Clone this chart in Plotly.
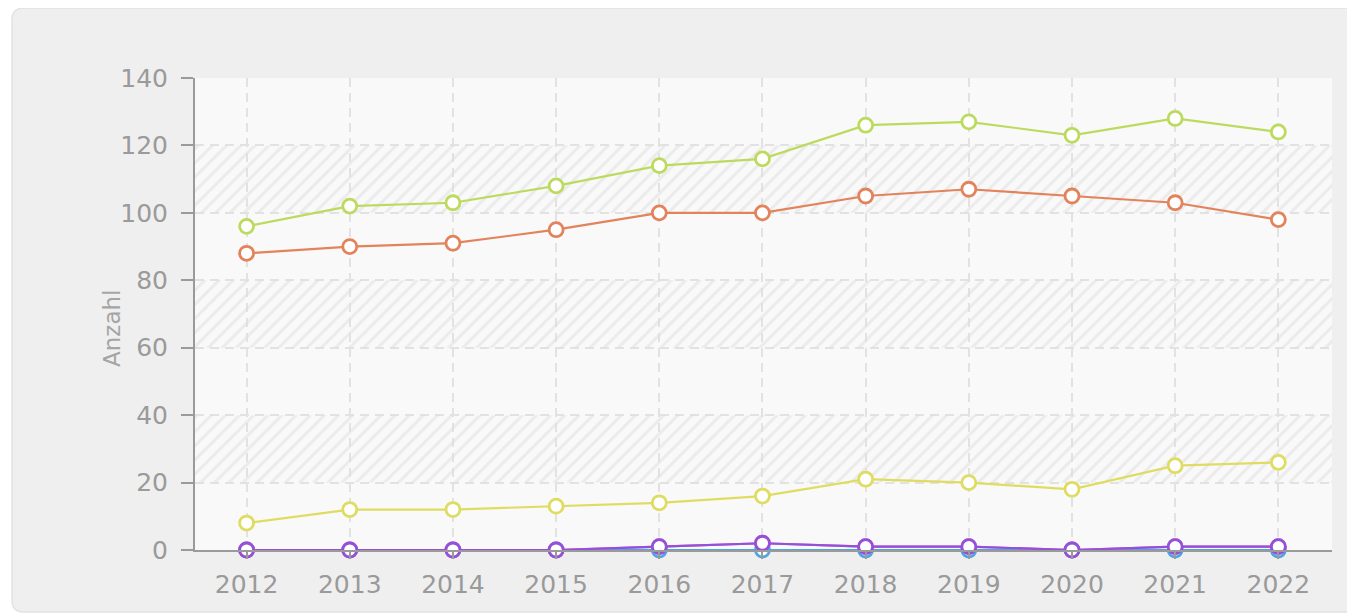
import plotly.graph_objects as go

years = [2012, 2013, 2014, 2015, 2016, 2017, 2018, 2019, 2020, 2021, 2022]
year_labels = [str(y) for y in years]
series_green = [96, 102, 103, 108, 114, 116, 126, 127, 123, 128, 124]
series_orange = [88, 90, 91, 95, 100, 100, 105, 107, 105, 103, 98]
series_yellow = [8, 12, 12, 13, 14, 16, 21, 20, 18, 25, 26]
series_blue = [0, 0, 0, 0, 0, 0, 0, 0, 0, 0, 0]
series_magenta = [0, 0, 0, 0, 1, 2, 1, 1, 0, 1, 1]
series_purple = [0, 0, 0, 0, 1, 2, 1, 1, 0, 1, 1]
y_ticks = [0, 20, 40, 60, 80, 100, 120, 140]
hatched_bands = [(20, 40), (60, 80), (100, 120)]
y_title = "Anzahl"

X_MIN, X_MAX = 2011.5, 2022.52
Y_MIN, Y_MAX = 0, 140

fig = go.Figure()

# hatched background bands
for lo, hi in hatched_bands:
    fig.add_trace(go.Scatter(
        x=[X_MIN, X_MAX, X_MAX, X_MIN, X_MIN], y=[lo, lo, hi, hi, lo],
        mode="lines", line=dict(width=0), fill="toself",
        fillcolor="rgba(0,0,0,0)",
        fillpattern=dict(shape="/", fgcolor="#dedede", bgcolor="rgba(0,0,0,0)", size=10, solidity=0.3),
        hoverinfo="skip", showlegend=False,
    ))

def add_series(vals, color):
    fig.add_trace(go.Scatter(
        x=years, y=vals, mode="lines+markers",
        line=dict(color=color, width=2.2),
        marker=dict(symbol="circle", size=14, color="white", line=dict(color=color, width=2.8)),
        showlegend=False, cliponaxis=False,
    ))

add_series(series_blue, "#4ea6e0")
add_series(series_magenta, "#d763e0")
add_series(series_purple, "#9450d6")
add_series(series_yellow, "#dfdc62")
add_series(series_orange, "#e2835c")
add_series(series_green, "#bcdb5e")

# layout geometry (figure pixels; the page adds an 8px body margin)
W, H = 1347, 608
L, R, T, B = 187, 1324, 70, 542
pw, ph = R - L, B - T

def px(x):
    return (x - L) / pw

def py(y):
    return (B - y) / ph

# outer rounded container
x0, x1, y0, y1 = px(4), px(1380), py(0), py(604)
rx, ry = 12 / pw, 12 / ph
path = (f"M {x0+rx},{y0} L {x1},{y0} L {x1},{y1} L {x0+rx},{y1} "
        f"Q {x0},{y1} {x0},{y1+ry} L {x0},{y0-ry} Q {x0},{y0} {x0+rx},{y0} Z")
fig.add_shape(type="path", path=path, xref="paper", yref="paper",
              fillcolor="#efefef", line=dict(color="#e2e2e2", width=1.5), layer="below")
fig.add_shape(type="rect", xref="paper", yref="paper", x0=0, x1=1, y0=0, y1=1,
              fillcolor="#f9f9f9", line=dict(width=0), layer="below")

fig.add_annotation(text=y_title, textangle=-90, xref="paper", yref="paper",
                   x=px(104), y=py(321), xanchor="center", yanchor="middle",
                   showarrow=False, font=dict(size=23, color="#a5a5a5"))

fig.update_layout(
    width=W, height=H,
    margin=dict(l=L, r=W - R, t=T, b=H - B),
    paper_bgcolor="white", plot_bgcolor="rgba(0,0,0,0)",
    font=dict(family="DejaVu Sans", color="#9a9a9a", size=25),
    xaxis=dict(
        range=[X_MIN, X_MAX], tickmode="array", tickvals=years, ticktext=year_labels,
        showgrid=True, gridcolor="#e2e2e2", griddash="9px,6px", gridwidth=1.6,
        showline=True, linecolor="#9a9a9a", linewidth=2,
        ticks="outside", ticklen=7, tickcolor="#9a9a9a", tickwidth=1.5,
        ticklabelstandoff=4,
        tickfont=dict(size=25, color="#9a9a9a"), zeroline=False, fixedrange=True,
    ),
    yaxis=dict(
        range=[Y_MIN, Y_MAX], tickmode="array", tickvals=y_ticks,
        showgrid=True, gridcolor="#e2e2e2", griddash="9px,6px", gridwidth=1.6,
        showline=True, linecolor="#9a9a9a", linewidth=2,
        ticks="outside", ticklen=12, tickcolor="#9a9a9a", tickwidth=1.5,
        ticklabelstandoff=8,
        tickfont=dict(size=25, color="#9a9a9a"), zeroline=False,
        fixedrange=True,
    ),
)

fig.write_html("out.html")
